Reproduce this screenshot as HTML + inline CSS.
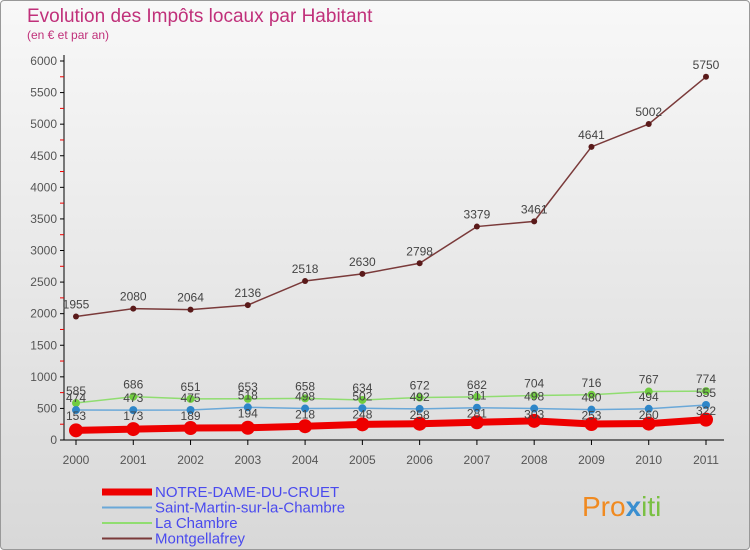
<!DOCTYPE html>
<html><head><meta charset="utf-8"><style>
body{margin:0;width:750px;height:550px;overflow:hidden;font-family:"Liberation Sans",sans-serif}
#wrap{position:relative;width:748px;height:548px;border:1px solid #999;background:linear-gradient(#f8f8f8,#d8d8d8);border-radius:4px}
</style></head><body>
<div id="wrap">
<svg id="chart" width="750" height="550" style="position:absolute;left:-1px;top:-1px">
<text x="27" y="22" font-size="19" fill="#c0307a">Evolution des Impôts locaux par Habitant</text>
<text x="27" y="39" font-size="12" fill="#c0307a">(en € et par an)</text>
<g id="axes"></g><g id="series"></g><g id="legend"></g>
<text x="582" y="516" font-size="28" fill="#f08a20">Pro<tspan fill="#3a8fd0" font-weight="bold">x</tspan><tspan fill="#7ac043">iti</tspan></text>
</svg></div>
<script>
const years=[2000,2001,2002,2003,2004,2005,2006,2007,2008,2009,2010,2011];
const yTicks=[0,500,1000,1500,2000,2500,3000,3500,4000,4500,5000,5500,6000];
const seriesNames=["NOTRE-DAME-DU-CRUET","Saint-Martin-sur-la-Chambre","La Chambre","Montgellafrey"];
const notreDame=[153,173,189,194,218,248,258,281,303,253,260,322];
const saintMartin=[474,473,475,518,498,502,492,511,498,480,494,555];
const laChambre=[585,686,651,653,658,634,672,682,704,716,767,774];
const montgellafrey=[1955,2080,2064,2136,2518,2630,2798,3379,3461,4641,5002,5750];
const NS="http://www.w3.org/2000/svg";
const X=i=>76+i*(630/11), Y=v=>440-v*(379/6000);
function mk(t,a,p){const e=document.createElementNS(NS,t);for(const k in a)e.setAttribute(k,a[k]);p.appendChild(e);return e;}
const ax=document.getElementById('axes');
const yl=mk('line',{x1:64,y1:55,x2:64,y2:440,stroke:'#000'},ax);


const xl=mk('line',{x1:64,y1:440,x2:724,y2:440,stroke:'#000'},ax);


yTicks.forEach((v,i)=>{
 mk('line',{x1:60,y1:Y(v),x2:64,y2:Y(v),stroke:'#000'},ax);
 if(i<yTicks.length-1)mk('line',{x1:60,y1:Y(v+250),x2:64,y2:Y(v+250),stroke:'#e00'},ax);
 const t=mk('text',{x:57,y:Y(v)+4,'font-size':12,'text-anchor':'end',fill:'#555'},ax);t.textContent=v;
 
 
});
years.forEach((y,i)=>{
 mk('line',{x1:X(i),y1:440,x2:X(i),y2:445,stroke:'#000'},ax);
 const t=mk('text',{x:X(i),y:464,'font-size':12,'text-anchor':'middle',fill:'#555'},ax);t.textContent=y;
 
 
});
const sg=document.getElementById('series');
const defs=[[montgellafrey,'#7a3a3a','#5a1a1a',1.5,3,'montgellafrey'],[laChambre,'#90dd70','#70cc40',1.5,4,'la-chambre'],[saintMartin,'#6aa8d8','#2e86c8',1.5,4,'saint-martin'],[notreDame,'#ee0000','#ee0000',7,7,'notre-dame-du-cruet']];
defs.forEach(([d,c,dc,w,r,n])=>{
 const p=mk('polyline',{points:d.map((v,i)=>X(i)+','+Y(v)).join(' '),fill:'none',stroke:c,'stroke-width':w},sg);
 
 
 d.forEach((v,i)=>{
  const ci=mk('circle',{cx:X(i),cy:Y(v),r:r,fill:dc},sg);
  
  
 });
});
[montgellafrey,laChambre,saintMartin,notreDame].forEach((d,si)=>{
 d.forEach((v,i)=>{
  const t=mk('text',{x:X(i),y:si==3?Y(saintMartin[i])+10:Y(v)-8,'font-size':12,'text-anchor':'middle',fill:'#444'},sg);t.textContent=v;
  
  
 });
});
const lg=document.getElementById('legend');
const lc=['#ee0000','#6aa8d8','#90dd70','#7a3a3a'],lw=[7,2,2,2];
seriesNames.forEach((n,i)=>{
 const y=492+i*15.5;
 mk('line',{x1:102,y1:y,x2:152,y2:y,stroke:lc[i],'stroke-width':lw[i]},lg);
 const t=mk('text',{x:155,y:y+5,'font-size':15,fill:'#4a4aee'},lg);t.textContent=n;
 
 
});
</script></body></html>
